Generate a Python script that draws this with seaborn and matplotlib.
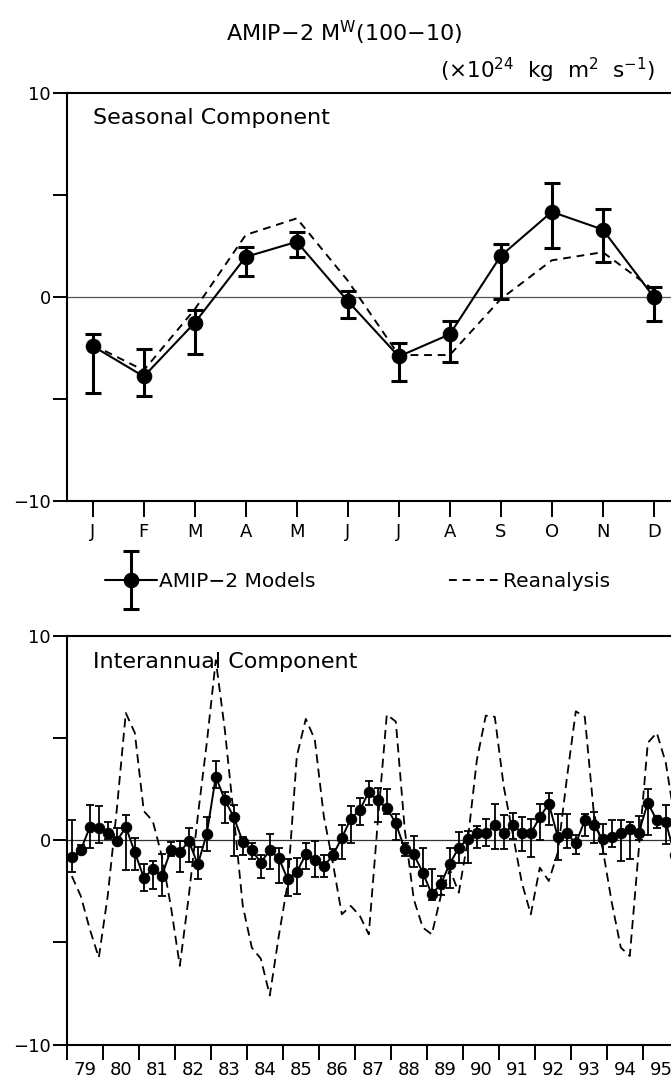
import numpy as np
import pandas as pd
import matplotlib
matplotlib.use("Agg")
import matplotlib.pyplot as plt
import seaborn as sns
from matplotlib.container import ErrorbarContainer
from matplotlib.legend_handler import HandlerErrorbar

# --- data ---------------------------------------------------------------------

months = ["J", "F", "M", "A", "M", "J", "J", "A", "S", "O", "N", "D"]
seas_model = [-2.41, -3.90, -1.26, 1.97, 2.71, -0.20, -2.92, -1.83, 2.02, 4.18, 3.31, 0.00]
seas_hi = [-1.83, -2.54, -0.65, 2.46, 3.17, 0.30, -2.24, -1.18, 2.62, 5.61, 4.30, 0.49]
seas_lo = [-4.72, -4.88, -2.79, 1.03, 1.97, -1.01, -4.13, -3.21, -0.08, 2.43, 1.72, -1.18]
seas_rean = [-2.35, -3.6, -0.6, 3.05, 3.86, 0.8, -2.85, -2.85, -0.1, 1.8, 2.2, 0.35]

years = list(range(1979, 1996))
year_labels = [f"{y % 100:02d}" for y in years]

# quarterly values, 4 per year 1979-1995
ia_model = [
    -0.83, -0.49, 0.64, 0.60,   0.36, -0.05, 0.64, -0.59,   -1.84, -1.43, -1.76, -0.49,
    -0.59, -0.05, -1.19, 0.31,  3.10, 1.97, 1.12, -0.08,    -0.50, -1.10, -0.50, -0.89,
    -1.92, -1.56, -0.70, -0.99, -1.27, -0.75, 0.11, 1.04,   1.47, 2.35, 1.94, 1.58,
    0.82, -0.45, -0.70, -1.59,  -2.65, -2.16, -1.15, -0.37, 0.07, 0.36, 0.33, 0.73,
    0.33, 0.73, 0.36, 0.33,     1.12, 1.78, 0.16, 0.33,     -0.16, 0.96, 0.73, 0.03,
    0.16, 0.36, 0.52, 0.36,     1.83, 0.96, 0.88, -0.75,
]
ia_hi = [
    0.96, -0.25, 1.71, 1.65,    0.88, 0.57, 1.22, 0.08,     -1.19, -1.03, -0.70, -0.08,
    -0.05, 0.57, -0.34, 1.14,   3.89, 2.36, 1.71, 0.15,     -0.16, -0.73, 0.28, -0.37,
    -0.94, -0.89, -0.13, -0.02, -0.73, -0.45, 0.73, 1.66,   2.04, 2.88, 2.53, 2.51,
    1.29, -0.13, 0.20, -0.41,   -1.40, -1.76, -0.37, 0.41,  0.44, 0.68, 1.01, 1.78,
    1.22, 1.34, 1.14, 1.01,     1.79, 2.31, 1.29, 1.29,     0.24, 1.29, 1.37, 0.80,
    0.96, 0.96, 0.90, 1.17,     2.51, 1.17, 1.74, -0.30,
]
ia_lo = [
    -1.56, -0.70, -0.41, -0.13, 0.07, -0.21, -1.47, -1.47,  -2.49, -2.41, -2.74, -0.78,
    -1.56, -1.06, -1.89, -0.54, 2.56, 0.85, -0.78, -0.73,   -0.94, -1.84, -1.40, -2.12,
    -2.74, -2.65, -1.40, -1.79, -1.79, -0.94, -0.94, -0.16, 0.73, 1.74, 0.90, 1.26,
    0.00, -0.78, -1.30, -2.25,  -2.93, -2.69, -2.33, -1.14, -1.10, -0.37, -0.29, -0.45,
    -0.45, 0.07, -0.54, -0.81,  0.00, 0.73, -0.98, -0.41,   -0.70, 0.20, -0.13, -0.70,
    -0.33, -1.03, -0.94, 0.00,  0.24, 0.60, -0.21, -1.20,
]
ia_rean = [
    -1.76, -2.74, -4.36, -5.75, -2.7, 1.50, 6.22, 5.25,    1.42, 0.93, -0.78, -3.22,
    -6.15, -2.74, 1.17, 4.76,   8.8, 5.41, 1.17, -3.22,    -5.26, -5.8, -7.6, -4.69,
    -2.08, 4.10, 5.93, 4.92,    1.17, -1.10, -3.63, -3.22, -3.7, -4.61, 0.9, 6.14,
    5.8, 0.5, -2.90, -4.28,     -4.61, -2.74, -1.43, -2.57, 0.0, 3.9, 6.09, 6.03,
    2.6, 0.3, -2.08, -3.63,     -1.35, -2.00, -0.6, 3.0,   6.30, 6.03, 1.34, -0.45,
    -3.06, -5.26, -5.67, -0.45, 4.76, 5.25, 3.78, 1.0,
]

# --- frames -------------------------------------------------------------------

seas = pd.DataFrame({
    "month": np.arange(1, 13),
    "model": seas_model, "hi": seas_hi, "lo": seas_lo, "rean": seas_rean,
})
ia = pd.DataFrame({
    "time": [y + (q + 0.5) / 4 for y in years for q in range(4)],
    "model": ia_model, "hi": ia_hi, "lo": ia_lo, "rean": ia_rean,
})

sns.set_style("ticks")
plt.rcParams["font.family"] = ["DejaVu Sans"]
plt.rcParams["axes.linewidth"] = 1.5
plt.rcParams["axes.edgecolor"] = "black"
plt.rcParams["text.color"] = "black"
plt.rcParams["xtick.color"] = "black"
plt.rcParams["ytick.color"] = "black"
plt.rcParams["xtick.labelcolor"] = "black"
plt.rcParams["ytick.labelcolor"] = "black"

W, H = 671, 1081
fig = plt.figure(figsize=(W / 100, H / 100), dpi=100)
ax1 = fig.add_axes([67.3 / W, 1 - 500.7 / H, 612 / W, 407.4 / H])
ax2 = fig.add_axes([67.3 / W, 1 - 1044.5 / H, 612 / W, 408.8 / H])

# --- seasonal -----------------------------------------------------------------

ax1.axhline(0, color="#555555", lw=0.9, zorder=1)
sns.lineplot(data=seas, x="month", y="rean", ax=ax1, color="black", lw=1.4,
             linestyle=(0, (4, 3)), zorder=2)
rean_line = ax1.lines[-1]
sns.lineplot(data=seas, x="month", y="model", ax=ax1, color="black", lw=1.5,
             marker="o", markersize=10.5, markeredgecolor="black", zorder=3)
model_line = ax1.lines[-1]
eb = ax1.errorbar(seas["month"], seas["model"],
                  yerr=[seas["model"] - seas["lo"], seas["hi"] - seas["model"]],
                  fmt="none", ecolor="black", elinewidth=2.2, capsize=6, capthick=2.2, zorder=3)

ax1.set_xlim(0.5, 12.5)
ax1.set_ylim(-10, 10)
ax1.set_xticks(range(1, 13))
ax1.set_xticklabels(months)
ax1.set_yticks([-10, 0, 10])
ax1.set_yticks([-5, 5], minor=True)
ax1.tick_params(axis="x", length=11.5, width=1.4, pad=4.5, labelsize=13, direction="out")
ax1.tick_params(axis="y", which="both", length=10, width=1.4, pad=2, labelsize=13, direction="out")
ax1.set_xlabel("")
ax1.set_ylabel("")
ax1.text(0.0425, 0.939, "Seasonal Component", transform=ax1.transAxes,
         fontsize=16, va="center", ha="left")

# --- interannual --------------------------------------------------------------

ax2.axhline(0, color="#333333", lw=0.9, zorder=1)
sns.lineplot(data=ia, x="time", y="rean", ax=ax2, color="black", lw=1.3,
             linestyle=(0, (5, 3)), zorder=2)
sns.lineplot(data=ia, x="time", y="model", ax=ax2, color="black", lw=1.4,
             marker="o", markersize=7.5, markeredgecolor="black", zorder=3)
ax2.errorbar(ia["time"], ia["model"],
             yerr=[ia["model"] - ia["lo"], ia["hi"] - ia["model"]],
             fmt="none", ecolor="black", elinewidth=1.3, capsize=3, capthick=1.3, zorder=3)

ax2.set_xlim(1979, 1996)
ax2.set_ylim(-10, 10)
ax2.set_xticks(years + [1996])
ax2.set_xticklabels([""] * (len(years) + 1))
ax2.set_xticks([y + 0.5 for y in years], minor=True)
ax2.set_xticklabels(year_labels, minor=True)
ax2.tick_params(axis="x", which="major", length=11, width=1.4, direction="out")
ax2.tick_params(axis="x", which="minor", length=0, pad=12, labelsize=13)
ax2.set_yticks([-10, 0, 10])
ax2.set_yticks([-5, 5], minor=True)
ax2.tick_params(axis="y", which="both", length=10, width=1.4, pad=2, labelsize=13, direction="out")
ax2.set_xlabel("")
ax2.set_ylabel("")
ax2.text(0.0425, 0.936, "Interannual Component", transform=ax2.transAxes,
         fontsize=16, va="center", ha="left")

# --- titles and legend --------------------------------------------------------

fig.text(0.513, 0.970, "AMIP\u22122 M$^{\\mathregular{W}}$(100\u221210)",
         fontsize=16, ha="center", va="center")
fig.text(0.976, 0.935,
         "(\u00d710$^{\\mathregular{24}}$  kg  m$^{\\mathregular{2}}$  s$^{\\mathregular{-1}}$)",
         fontsize=15.5, ha="right", va="center")

handle = ErrorbarContainer((model_line, eb.lines[1], eb.lines[2]), has_yerr=True)
fig.legend([handle, rean_line], ["AMIP\u22122 Models", "Reanalysis"],
           ncol=2, loc="center left", bbox_to_anchor=(105 / W, 1 - 581.7 / H),
           frameon=False, borderpad=0, borderaxespad=0, fontsize=14.5,
           handlelength=2.6, handletextpad=0.1, columnspacing=6.6, numpoints=1,
           handler_map={ErrorbarContainer: HandlerErrorbar(yerr_size=1.45)})

fig.savefig("out.png", dpi=100)
